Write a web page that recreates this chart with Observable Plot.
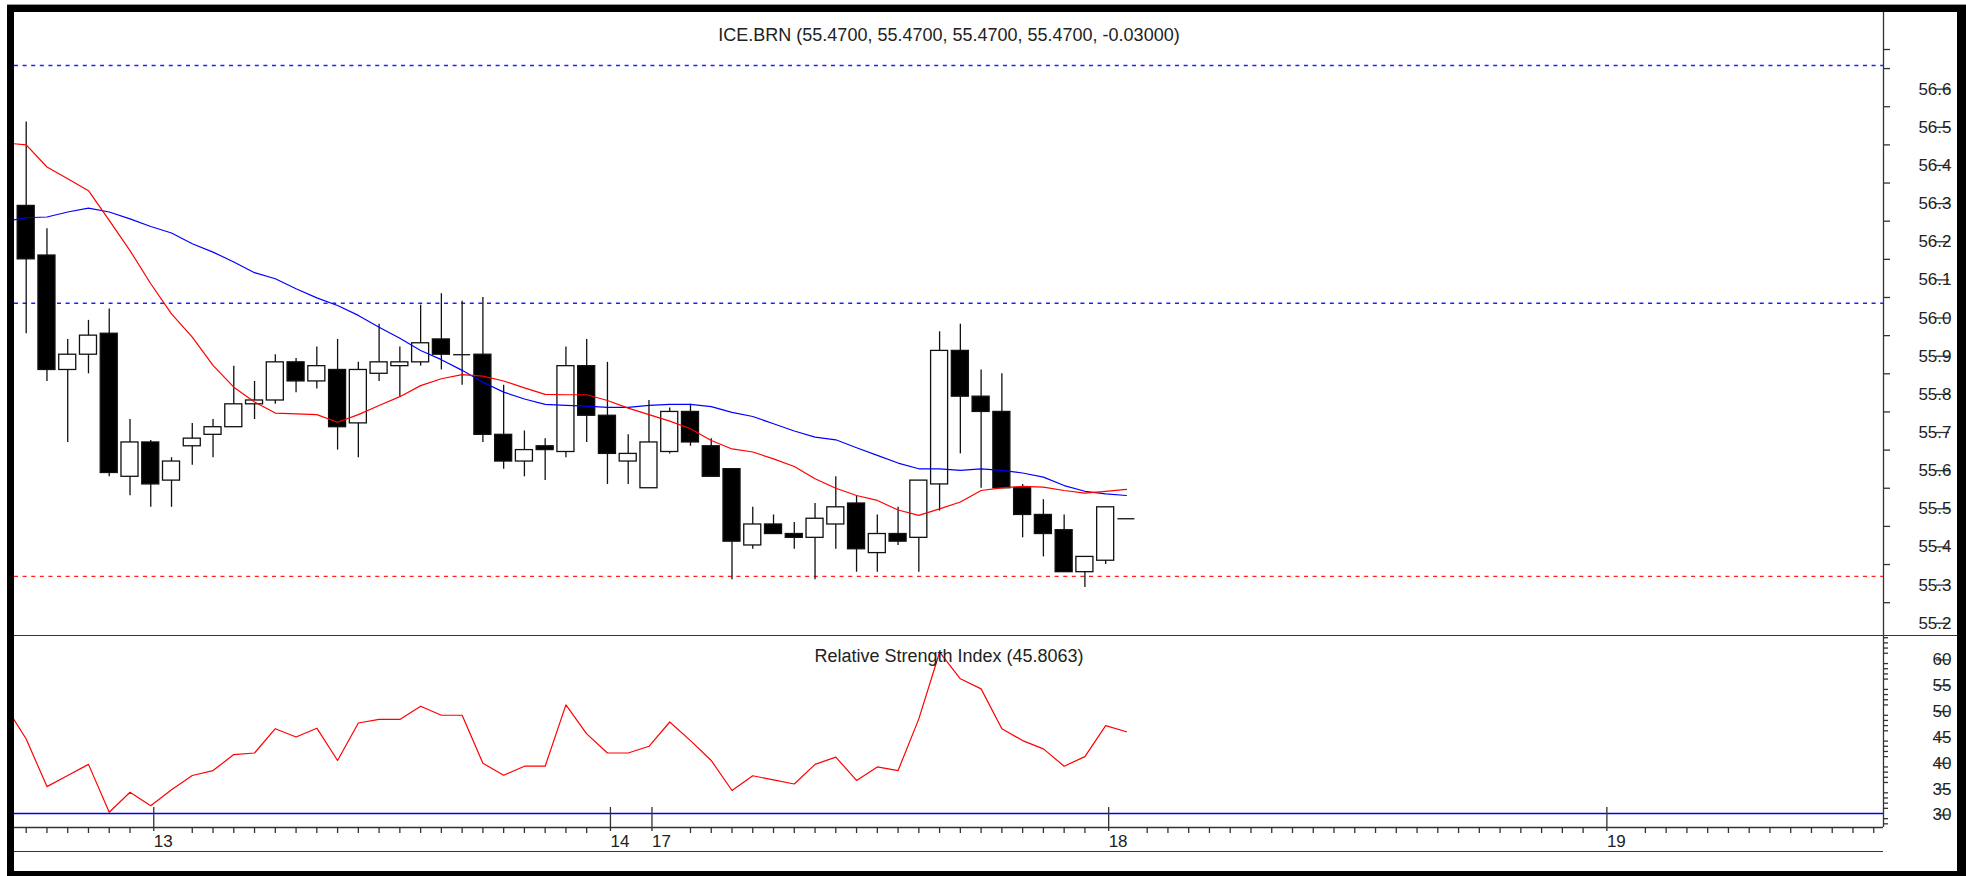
<!DOCTYPE html>
<html><head><meta charset="utf-8">
<script src="https://cdn.jsdelivr.net/npm/d3@7"></script>
<script src="https://cdn.jsdelivr.net/npm/@observablehq/plot@0.6"></script>
<style>
html,body{margin:0;padding:0;background:#fff;overflow:hidden;}
#wrap{position:relative;width:1966px;height:876px;overflow:hidden;background:#fff;}
#wrap svg{position:absolute;left:0;overflow:visible;}
#frame{position:absolute;left:7px;top:5px;width:1959px;height:871px;box-sizing:border-box;border-left:7px solid #000;border-top:7px solid #000;border-right:9px solid #000;border-bottom:5px solid #000;box-shadow:0 -1px 0 #9a9a9a;}
.hline{position:absolute;height:0;border-top:1.4px solid #333;}
</style>
</head><body>
<div id="wrap"></div>
<script>
// ---- data ----
const open  = [56.29,56.16,55.86,55.90,55.955,55.58,55.67,55.57,55.66,55.69,55.71,55.77,55.78,55.88,55.83,55.86,55.72,55.85,55.87,55.88,55.94,55.90,55.90,55.69,55.62,55.66,55.645,55.87,55.74,55.62,55.55,55.645,55.75,55.66,55.60,55.40,55.455,55.43,55.42,55.455,55.51,55.38,55.43,55.42,55.56,55.91,55.79,55.75,55.55,55.48,55.44,55.33,55.36,55.47];
const high  = [56.51,56.23,55.94,55.99,56.02,55.73,55.675,55.63,55.72,55.73,55.87,55.83,55.90,55.89,55.92,55.94,55.88,55.98,55.92,56.03,56.06,56.04,56.05,55.82,55.70,55.68,55.92,55.94,55.88,55.69,55.78,55.76,55.77,55.68,55.60,55.50,55.48,55.46,55.51,55.58,55.53,55.48,55.50,55.57,55.96,55.98,55.86,55.85,55.56,55.52,55.48,55.37,55.50,55.47];
const low   = [55.955,55.83,55.67,55.85,55.58,55.53,55.50,55.50,55.61,55.63,55.71,55.73,55.77,55.80,55.81,55.65,55.63,55.83,55.79,55.87,55.86,55.82,55.67,55.60,55.58,55.57,55.63,55.67,55.56,55.56,55.55,55.64,55.66,55.58,55.31,55.39,55.43,55.39,55.31,55.39,55.33,55.33,55.40,55.33,55.49,55.64,55.55,55.55,55.42,55.37,55.33,55.29,55.35,55.47];
const close = [56.15,55.86,55.90,55.95,55.59,55.67,55.56,55.62,55.68,55.71,55.77,55.78,55.88,55.83,55.87,55.71,55.86,55.88,55.88,55.93,55.90,55.90,55.69,55.62,55.65,55.65,55.87,55.74,55.64,55.64,55.67,55.75,55.67,55.58,55.41,55.455,55.43,55.42,55.47,55.50,55.39,55.43,55.41,55.57,55.91,55.79,55.75,55.55,55.48,55.43,55.33,55.37,55.50,55.47];
// moving averages and RSI start one bar before the first visible candle (clipped at the left edge)
const redMA  = [56.455,56.45,56.392,56.361,56.33,56.252,56.173,56.086,56.007,55.946,55.872,55.815,55.776,55.747,55.745,55.743,55.723,55.743,55.767,55.790,55.819,55.837,55.848,55.844,55.831,55.813,55.796,55.795,55.795,55.780,55.760,55.743,55.726,55.706,55.675,55.653,55.645,55.627,55.607,55.575,55.550,55.531,55.518,55.493,55.479,55.496,55.514,55.544,55.551,55.555,55.553,55.544,55.537,55.542,55.547];
const blueMA = [56.250,56.259,56.261,56.274,56.284,56.274,56.256,56.236,56.219,56.191,56.169,56.143,56.115,56.099,56.073,56.049,56.029,56.003,55.972,55.943,55.911,55.887,55.859,55.828,55.802,55.784,55.770,55.767,55.765,55.762,55.762,55.767,55.770,55.770,55.764,55.749,55.738,55.719,55.700,55.684,55.677,55.656,55.636,55.616,55.601,55.601,55.597,55.601,55.597,55.590,55.579,55.557,55.542,55.535,55.531];
const rsi    = [50.8,44.4,35.2,37.35,39.5,30.25,34.1,31.5,34.6,37.35,38.3,41.4,41.7,46.4,44.8,46.5,40.25,47.5,48.2,48.2,50.75,49.0,49.0,39.7,37.4,39.15,39.15,51.0,45.4,41.7,41.7,43.0,47.7,44.1,40.25,34.45,37.3,36.5,35.7,39.5,40.9,36.4,39.0,38.3,48.3,61.2,56.05,54.1,46.4,44.1,42.5,39.15,41.0,47.0,45.81];
const blueLevels = [56.658, 56.035];
const redLevels  = [55.319];
const rsiLevels  = [30];
const priceMajor = [55.2,55.3,55.4,55.5,55.6,55.7,55.8,55.9,56.0,56.1,56.2,56.3,56.4,56.5,56.6];
const priceMinor = [55.25,55.35,55.45,55.55,55.65,55.75,55.85,55.95,56.05,56.15,56.25,56.35,56.45,56.55,56.65,56.7];
const rsiMajor = [30,35,40,45,50,55,60];
const dayLabels = ["13","14","17","18","19"];
const dayStart  = [6,28,30,52,76];
const lastBarIndex = 89;
const rsiTitle = "Relative Strength Index (45.8063)";
const symbol = "ICE.BRN";

// ---- derived ----
const N = open.length;
const bars = d3.range(N).map(i => ({i, o: open[i], h: high[i], l: low[i], c: close[i]}));
const lines = d3.range(-1, N).map((i, j) => ({i, r: redMA[j], b: blueMA[j], s: rsi[j]}));
const last = bars[N - 1];
const title = `${symbol} (${[last.o, last.h, last.l, last.c].map(v => v.toFixed(4)).join(", ")}, ${(last.c - close[N - 2]).toFixed(5)})`;
const rsiMinor = d3.range(28, 65).filter(v => v % 5 !== 0);
const barTicks = d3.range(0, lastBarIndex + 1).filter(i => !dayStart.includes(i) && !dayStart.includes(i - 1));

const xDomain = [-0.5636, 89.47];
const font = '"Liberation Sans", Arial, sans-serif';
const style = {background: "transparent", fontFamily: font, fontSize: "17px", color: "#222"};
const hw = 0.41;

const pricePlot = Plot.plot({
  width: 1966, height: 635,
  marginLeft: 14, marginRight: 83, marginTop: 12, marginBottom: 0,
  x: {domain: xDomain, axis: null, label: null},
  y: {domain: [55.164, 56.797], axis: null, label: null},
  style,
  marks: [
    Plot.ruleY(blueLevels, {stroke: "#2020ff", strokeWidth: 1.4, strokeDasharray: "4,4.6"}),
    Plot.ruleY(redLevels, {stroke: "#ff2020", strokeWidth: 1.4, strokeDasharray: "4,4.6"}),
    Plot.ruleX(bars, {x: "i", y1: "l", y2: "h", stroke: "#111", strokeWidth: 1.3}),
    Plot.rect(bars.filter(d => d.c < d.o), {x1: d => d.i - hw, x2: d => d.i + hw, y1: "o", y2: "c", fill: "#000", stroke: "#111", strokeWidth: 1.3}),
    Plot.rect(bars.filter(d => d.c > d.o), {x1: d => d.i - hw, x2: d => d.i + hw, y1: "o", y2: "c", fill: "#fff", stroke: "#111", strokeWidth: 1.3}),
    Plot.ruleY(bars.filter(d => d.c === d.o), {y: "c", x1: d => d.i - hw, x2: d => d.i + hw, stroke: "#111", strokeWidth: 1.3}),
    Plot.line(lines, {x: "i", y: "b", stroke: "#0000ff", strokeWidth: 1.2, clip: true}),
    Plot.line(lines, {x: "i", y: "r", stroke: "#ff0000", strokeWidth: 1.2, clip: true}),
    Plot.text([title], {frameAnchor: "top", dy: 15.5, fill: "#222", fontSize: 18}),
    Plot.ruleX([xDomain[1]], {stroke: "#333", strokeWidth: 1.3}),
    Plot.axisY({anchor: "right", label: null, ticks: priceMajor, tickSize: 13, tickPadding: 3, tickFormat: d => d.toFixed(1), textAnchor: "end", dx: 52, dy: 1.5, stroke: "#333", fill: "#222", strokeWidth: 1.3}),
    Plot.axisY({anchor: "right", label: null, ticks: priceMinor, tickSize: 6, tickFormat: () => "", stroke: "#333", strokeWidth: 1.3})
  ]
});
pricePlot.style.top = "0px";

const rsiPlot = Plot.plot({
  width: 1966, height: 241,
  marginLeft: 14, marginRight: 83, marginTop: 0, marginBottom: 49,
  x: {domain: xDomain, axis: null, label: null},
  y: {domain: [27.29, 64.43], axis: null, label: null},
  style,
  marks: [
    Plot.ruleY(rsiLevels, {stroke: "#0000ff", strokeWidth: 1.6}),
    Plot.line(lines, {x: "i", y: "s", stroke: "#ff0000", strokeWidth: 1.2, clip: true}),
    Plot.text([rsiTitle], {frameAnchor: "top", dy: 14, fill: "#222", fontSize: 18}),
    Plot.ruleX([xDomain[1]], {stroke: "#333", strokeWidth: 1.3}),
    Plot.ruleY([27.29], {stroke: "#333", strokeWidth: 1.3}),
    Plot.axisY({anchor: "right", label: null, ticks: rsiMajor, tickSize: 13, tickPadding: 3, tickFormat: d => String(d), textAnchor: "end", dx: 52, dy: 1.5, stroke: "#333", fill: "#222", strokeWidth: 1.3}),
    Plot.axisY({anchor: "right", label: null, ticks: rsiMinor, tickSize: 4, tickFormat: () => "", stroke: "#333", strokeWidth: 1.3}),
    Plot.axisX({anchor: "bottom", label: null, ticks: barTicks, tickSize: 6, tickFormat: () => "", stroke: "#333", strokeWidth: 1.3}),
    Plot.axisX({anchor: "bottom", label: null, ticks: dayStart, tickSize: 24, tickPadding: 3, tickFormat: d => dayLabels[dayStart.indexOf(d)], textAnchor: "start", dx: 3, dy: -20, stroke: "#333", fill: "#222", strokeWidth: 1.3})
  ]
});
rsiPlot.style.top = "635px";

const wrap = document.getElementById("wrap");
wrap.appendChild(pricePlot);
wrap.appendChild(rsiPlot);
const l1 = document.createElement("div"); l1.className = "hline";
Object.assign(l1.style, {left: "14px", top: "634.5px", width: "1945px"});
wrap.appendChild(l1);
const l2 = document.createElement("div"); l2.className = "hline";
Object.assign(l2.style, {left: "14px", top: "851px", width: "1869px"});
wrap.appendChild(l2);
const fr = document.createElement("div"); fr.id = "frame";
wrap.appendChild(fr);
</script>
</body></html>
